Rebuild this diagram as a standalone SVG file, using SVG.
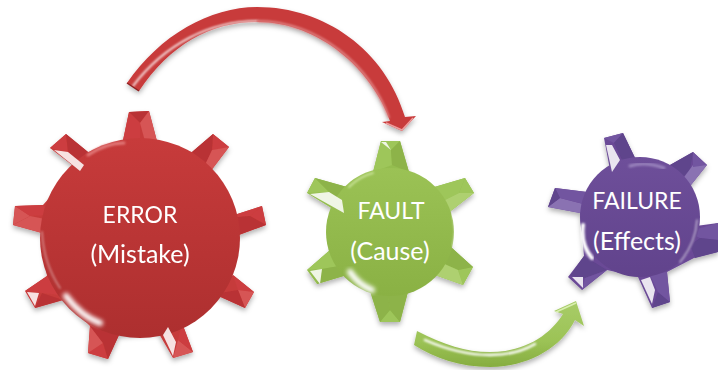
<svg xmlns="http://www.w3.org/2000/svg" width="718" height="370" viewBox="0 0 718 370">
<style>
text{font-family:"Lato","Open Sans","Liberation Sans",sans-serif;font-size:23px;fill:#fff;text-anchor:middle}
text.b{font-size:25px}
.w{fill:#fff;opacity:.85}
.hl{fill:none;stroke:#fff;stroke-linecap:round}
.r0{fill:#c63a3b}.r1{fill:#cc3e3f}.r2{fill:#b93334}.r3{fill:#d65454}
.g0{fill:#94bd4f}.g1{fill:#9ec65a}.g2{fill:#8db348}.g3{fill:#aed070}
.p0{fill:#6a4a96}.p1{fill:#7254a0}.p2{fill:#5f448c}.p3{fill:#8a72b2}
</style>
<defs>
<filter id="sh" x="-15%" y="-15%" width="130%" height="130%"><feDropShadow dx="0" dy="3" stdDeviation="2.5" flood-color="#000" flood-opacity=".3"/></filter>
<filter id="f" x="-10%" y="-10%" width="120%" height="120%"><feGaussianBlur stdDeviation=".7"/></filter>
<filter id="soft" x="-20%" y="-20%" width="140%" height="140%"><feGaussianBlur stdDeviation="1"/></filter>
<filter id="soft2" x="-30%" y="-30%" width="160%" height="160%"><feGaussianBlur stdDeviation="2"/></filter>
<linearGradient id="rd" x1="0" y1="0" x2="0" y2="1"><stop offset="0" stop-color="#c73b3b"/><stop offset="1" stop-color="#ad2f2f"/></linearGradient>
<linearGradient id="gd" x1="0" y1="0" x2="0" y2="1"><stop offset="0" stop-color="#9bc255"/><stop offset="1" stop-color="#8ab144"/></linearGradient>
<linearGradient id="pd" x1="0" y1="0" x2="0" y2="1"><stop offset="0" stop-color="#6e4f9a"/><stop offset="1" stop-color="#61438c"/></linearGradient>
<linearGradient id="ga" x1="0" y1="0" x2="0" y2="1"><stop offset="0" stop-color="#a8cc68"/><stop offset=".6" stop-color="#9cc356"/><stop offset="1" stop-color="#86ad40"/></linearGradient>
</defs>

<g id="connectors">
<g id="arrow-red">
<path filter="url(#sh)" d="M127 83C160 35 210 7 257 7C325 7 385 50 405 117L416 116L402 131L382 122L390 121C372 70 320 22 257 22C210 22 170 45 139 91Z" fill="#c83a3b"/>
<path d="M133 86C165 44 210 21 257 21" class="hl" stroke-width="1.6" filter="url(#soft)"/>
<path d="M257 21C320 22 370 66 389 118" fill="none" stroke="#e28a8a" stroke-width="2" filter="url(#soft)"/>
<path d="M386 123L402 130L413 118" fill="none" stroke="#ec9c9c" stroke-width="1.5"/>
<path d="M127 83L139 91" stroke="#8f2021" stroke-width="1.5"/>
</g>
<g id="arrow-green">
<path filter="url(#sh)" d="M417 331C445 345 465 352 490 352C525 352 550 335 563 314L554 311L576 301L584 326L575 320C560 350 525 367 490 367C460 367 435 358 414 345Z" fill="url(#ga)"/>
<path d="M425 340C450 351 470 355 490 355C510 355 525 350 535 344" class="hl" stroke-width="2.4" filter="url(#soft)"/>
<path d="M556 312L576 303" fill="none" stroke="#d9efb0" stroke-width="1.5"/>
</g>
</g>

<g id="error">
<path filter="url(#sh)" class="r0" d="M122 145L129 112L149 111L158 145L192 152L213 134L229 147L210 172L225 218L262 206L266 225L236 236L219 288L233 275L254 292L245 308L214 294L182 323L193 352L173 358L158 332L119 335L108 359L88 353L90 326L63 300L35 308L25 291L47 276L42 233L13 225L15 206L43 205L76 168L50 148L66 134L88 152Z"/>
<g filter="url(#f)">
<path class="r2" d="M129 112L149 111L140 123Z"/><path class="r1" d="M122 145L129 112L140 123L140 150Z"/><path class="r3" d="M149 111L158 145L146 145L140 123Z"/>
<path class="r1" d="M213 134L229 147L212 150Z"/><path class="r2" d="M192 152L213 134L212 150L205 165Z"/><path class="r3" d="M229 147L210 172L205 165L212 150Z"/>
<path class="r1" d="M262 206L266 225L250 216Z"/><path class="r1" d="M225 218L262 206L250 216Z"/><path class="r2" d="M266 225L236 236L225 218L250 216Z"/>
<path class="r1" d="M233 275L254 292L238 290Z"/><path class="r3" d="M254 292L245 308L238 290Z"/><path class="r2" d="M245 308L214 294L238 290Z"/>
<path class="r3" d="M173 358L193 352L178 340Z"/><path class="r1" d="M193 352L182 323L178 340Z"/>
<path class="r1" d="M108 359L88 353L103 343Z"/><path class="r3" d="M88 353L90 326L103 343Z"/><path class="r2" d="M90 326L119 335L108 359L103 343Z"/>
<path class="r1" d="M25 291L47 276L60 295L42 293Z"/><path class="r2" d="M63 300L35 308L42 293Z"/>
<path class="r3" d="M13 225L15 206L30 216Z"/><path class="r3" d="M42 233L13 225L30 216L50 220Z"/><path class="r1" d="M15 206L43 205L50 215L30 216Z"/>
<path class="r1" d="M50 148L66 134L68 152Z"/><path class="r2" d="M66 134L88 152L82 170L68 152Z"/>
</g>
<circle cx="140" cy="238" r="100" fill="url(#rd)"/>
<g filter="url(#f)">
<path class="w" d="M163 335L173 356L176 342L168 327Z"/>
<path class="w" d="M27 292L35 306L39 293Z"/>
<path class="w" d="M80 171L54 150L68 152L84 165Z"/>
</g>
<path class="hl" d="M66 296C75 308 86 318 100 323" stroke-width="6" filter="url(#soft2)"/>
<path class="hl" d="M42 232C43 250 48 270 60 288" stroke-width="2" opacity=".35" filter="url(#soft)"/>
<path class="hl" d="M88 155C100 147 112 143 124 143" stroke-width="3" style="stroke:#e27a7a" filter="url(#soft)"/>
<text x="140" y="223">ERROR</text>
<text class="b" x="140" y="263">(Mistake)</text>
</g>

<g id="fault">
<path filter="url(#sh)" class="g0" d="M373 172L381 141L400 141L409 172L431 188L465 178L474 193L447 214L452 248L473 267L463 285L432 274L409 288L400 322L380 322L370 291L347 275L317 284L307 270L330 250L341 214L307 193L315 178L347 187Z"/>
<g filter="url(#f)">
<path class="g1" d="M381 141L400 141L391 150Z"/><path class="g1" d="M373 172L381 141L391 150L392 165Z"/><path class="g2" d="M400 141L409 172L392 165L391 150Z"/>
<path class="g1" d="M465 178L474 193L459 193Z"/><path class="g1" d="M431 188L465 178L459 193L445 200Z"/><path class="g3" d="M474 193L447 214L445 200L459 193Z"/>
<path class="g1" d="M473 267L463 285L458 270Z"/><path class="g2" d="M452 248L473 267L458 270L440 262Z"/><path class="g3" d="M463 285L432 274L440 262L458 270Z"/>
<path class="g1" d="M400 322L380 322L390 310Z"/><path class="g2" d="M370 291L380 322L390 310L388 295Z"/><path class="g2" d="M409 288L400 322L390 310L388 295Z"/>
<path class="g1" d="M307 270L330 250L345 265L322 269Z"/><path class="g2" d="M347 275L317 284L322 269L345 265Z"/>
<path class="g1" d="M307 193L315 178L329 192Z"/><path class="g2" d="M315 178L347 187L340 200L329 192Z"/>
</g>
<circle cx="390" cy="232" r="64" fill="url(#gd)"/>
<g filter="url(#f)">
<path class="w" d="M344 213L310 194L329 192L342 200Z"/>
<path class="w" d="M310 271L320 284L322 269Z"/>
<path class="w" d="M381 142L391 150L386 142Z"/>
</g>
<path class="hl" d="M350 272C356 281 364 287 372 290" stroke-width="6" filter="url(#soft2)"/>
<path class="hl" d="M452 212C456 225 456 236 453 246" stroke-width="2" opacity=".6" filter="url(#soft)"/>
<path class="hl" d="M349 187C356 180 365 175 373 173" stroke-width="2" style="stroke:#c9e398" filter="url(#soft)"/>
<text x="391" y="219">FAULT</text>
<text class="b" x="390" y="260">(Cause)</text>
</g>

<g id="failure">
<path filter="url(#sh)" class="p0" d="M610 170L604 138L623 133L637 162L670 165L693 152L707 165L687 190L696 226L718 223L718 252L694 258L667 272L670 302L652 308L638 277L607 270L582 290L568 277L584 256L580 213L548 207L555 188L587 192Z"/>
<g filter="url(#f)">
<path class="p1" d="M604 138L623 133L614 143Z"/><path class="p2" d="M614 143L623 133L637 162L622 160Z"/>
<path class="p2" d="M670 165L693 152L690 170L680 180Z"/><path class="p3" d="M707 165L687 190L682 180L693 165Z"/><path class="p1" d="M693 152L707 165L693 167Z"/>
<path class="p1" d="M687 232L718 223L718 240L700 238Z"/><path class="p2" d="M695 258L718 252L718 240L700 238L690 245Z"/>
<path class="p2" d="M652 308L670 302L658 292Z"/><path class="p1" d="M670 302L667 272L650 275L658 292Z"/>
<path class="p2" d="M584 256L607 270L585 278L570 276Z"/><path class="p1" d="M582 290L607 270L585 278Z"/>
<path class="p3" d="M548 207L580 213L587 205L560 198Z"/><path class="p1" d="M555 188L587 192L587 205L560 198Z"/><path class="p2" d="M548 207L555 188L560 198Z"/>
</g>
<circle cx="640" cy="217" r="60" fill="url(#pd)"/>
<g filter="url(#f)">
<path class="w" d="M612 145L620 160L612 172L606 145Z" opacity=".6"/>
<path class="w" d="M641 280L652 304L655 290L650 277Z"/>
<path class="w" d="M572 277L583 288L583 277Z"/>
</g>
<path class="hl" d="M583 225C581 240 585 250 592 258" stroke-width="4" filter="url(#soft)"/>
<path class="hl" d="M630 166C640 163 650 163 664 168" stroke-width="3" style="stroke:#9a84bd" filter="url(#soft)"/>
<path class="hl" d="M697 220C696 235 690 250 680 262" stroke-width="1.5" opacity=".6" filter="url(#soft)"/>
<text x="637" y="209">FAILURE</text>
<text class="b" x="637" y="250">(Effects)</text>
</g>
</svg>
